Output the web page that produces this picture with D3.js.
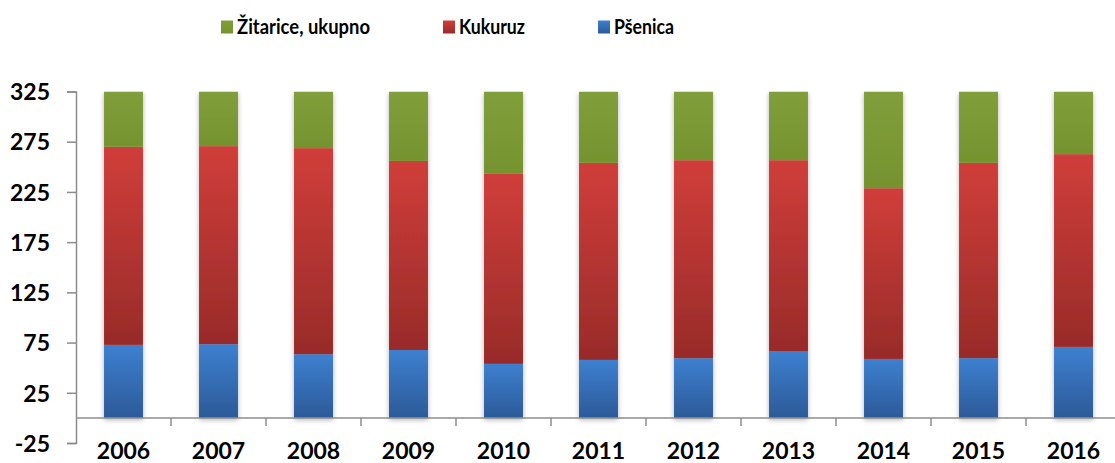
<!DOCTYPE html>
<html>
<head>
<meta charset="utf-8">
<script src="https://cdn.jsdelivr.net/npm/d3@7"></script>
<style>
  body { margin: 0; background: #fff; }
  text { font-family: Lato, "Open Sans", sans-serif; font-weight: bold; fill: #000; }
</style>
</head>
<body>
<div id="chart"></div>
<script>
// data
var years = ["2006", "2007", "2008", "2009", "2010", "2011", "2012", "2013", "2014", "2015", "2016"];
var psenica = [72.7, 73.4, 63.4, 67.6, 53.8, 57.7, 59.4, 66.6, 58.7, 59.5, 70.7];
var kukuruz = [197.3, 197.2, 205.2, 188.3, 189.2, 196.3, 197.2, 190.0, 170.0, 194.5, 191.9];
// totals go past the axis maximum, only the part below 325 is visible
var zitarice = [305, 306, 303, 290, 275, 287, 290, 291, 262, 288, 297];
var yTicks = [-25, 25, 75, 125, 175, 225, 275, 325];

var series = [
  { key: "zitarice", name: "Žitarice, ukupno", values: zitarice, top: "#809f3b", bottom: "#75932e" },
  { key: "kukuruz", name: "Kukuruz", values: kukuruz, top: "#d03e3a", bottom: "#982b29" },
  { key: "psenica", name: "Pšenica", values: psenica, top: "#3d80d0", bottom: "#2c5a98" }
];

var width = 1115, height = 463;

var svg = d3.select("#chart")
  .append("svg")
  .attr("width", width)
  .attr("height", height);

var defs = svg.append("defs");

series.forEach(function (s) {
  var gr = defs.append("linearGradient")
    .attr("id", "grad-" + s.key)
    .attr("x1", 0).attr("y1", 0).attr("x2", 0).attr("y2", 1);
  gr.append("stop").attr("offset", "0%").attr("stop-color", s.top);
  gr.append("stop").attr("offset", "100%").attr("stop-color", s.bottom);
});

var f = defs.append("filter").attr("id", "shadow")
  .attr("x", "-30%").attr("y", "-10%").attr("width", "160%").attr("height", "120%");
f.append("feDropShadow")
  .attr("dx", 0).attr("dy", 2)
  .attr("stdDeviation", 2.5)
  .attr("flood-color", "#000")
  .attr("flood-opacity", 0.3);

var x = d3.scaleBand()
  .domain(years)
  .range([76, 1121])
  .paddingInner(0.59)
  .paddingOuter(0.295);

var y = d3.scaleLinear()
  .domain([-25, 325])
  .range([443, 91.5]);

defs.append("clipPath").attr("id", "plotclip")
  .append("rect")
  .attr("x", 0).attr("y", y(325))
  .attr("width", width).attr("height", y(-25) - y(325));

// stack order: psenica at bottom, then kukuruz, then zitarice
var table = years.map(function (yr, i) {
  return { year: yr, psenica: psenica[i], kukuruz: kukuruz[i], zitarice: zitarice[i] };
});
var stack = d3.stack().keys(["psenica", "kukuruz", "zitarice"]);
var stacked = stack(table);

var bars = svg.append("g").attr("clip-path", "url(#plotclip)");

var cols = bars.selectAll(".col")
  .data(years)
  .enter()
  .append("g")
  .attr("class", "col")
  .attr("filter", "url(#shadow)");

cols.each(function (yr, i) {
  var g = d3.select(this);
  stacked.forEach(function (layer) {
    var d = layer[i];
    var top = Math.min(d[1], 325);
    g.append("rect")
      .attr("x", x(yr))
      .attr("width", x.bandwidth())
      .attr("y", y(top))
      .attr("height", y(d[0]) - y(top))
      .attr("fill", "url(#grad-" + layer.key + ")");
  });
});

// y axis
var yAxis = svg.append("g")
  .attr("transform", "translate(76,0)")
  .call(d3.axisLeft(y).tickValues(yTicks).tickSize(9).tickPadding(17)
    .tickFormat(function (d) { return String(d); }));
yAxis.select(".domain").attr("stroke", "#8c8c8c").attr("stroke-width", 1.5);
yAxis.selectAll(".tick line").attr("stroke", "#8c8c8c").attr("stroke-width", 1.5);
yAxis.selectAll(".tick text")
  .style("font-size", "23px")
  .attr("dy", "0.36em")
  .attr("x", -26);

// x axis at zero
var xAxisG = svg.append("g")
  .attr("transform", "translate(0," + y(0) + ")");
xAxisG.append("line")
  .attr("x1", 76).attr("x2", width)
  .attr("stroke", "#8c8c8c").attr("stroke-width", 1.5);
xAxisG.selectAll(".xtick")
  .data(years.slice(1).concat(["end"]))
  .enter()
  .append("line")
  .attr("x1", function (d, i) { return 76 + x.step() * (i + 1); })
  .attr("x2", function (d, i) { return 76 + x.step() * (i + 1); })
  .attr("y1", 0).attr("y2", 8)
  .attr("stroke", "#8c8c8c").attr("stroke-width", 1.5);

svg.append("g").selectAll(".ylab")
  .data(years)
  .enter()
  .append("text")
  .attr("x", function (d) { return x(d) + x.bandwidth() / 2; })
  .attr("y", 459)
  .attr("text-anchor", "middle")
  .style("font-size", "23px")
  .text(function (d) { return d; });

// legend (text squeezed to the narrower original face)
var legendX = [221, 443, 598];
var legendW = [133, 66, 60];
var legend = svg.append("g").selectAll(".leg")
  .data(series)
  .enter()
  .append("g")
  .attr("transform", function (d, i) { return "translate(" + legendX[i] + ",0)"; });
legend.append("rect")
  .attr("x", 0).attr("y", 20.5)
  .attr("width", 12).attr("height", 13)
  .attr("fill", function (d) { return "url(#grad-" + d.key + ")"; });
legend.append("text")
  .attr("x", 16)
  .attr("y", 34)
  .style("font-size", "21px")
  .attr("textLength", function (d, i) { return legendW[i]; })
  .attr("lengthAdjust", "spacingAndGlyphs")
  .text(function (d) { return d.name; });
</script>
</body>
</html>
